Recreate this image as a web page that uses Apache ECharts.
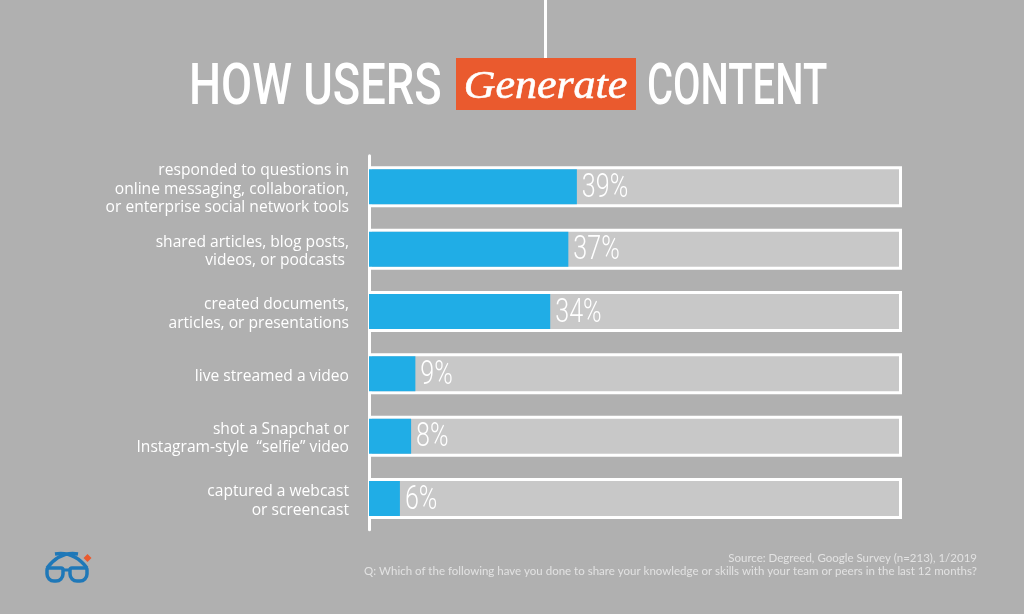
<!DOCTYPE html>
<html>
<head>
<meta charset="utf-8">
<title>How Users Generate Content</title>
<script src="https://cdn.jsdelivr.net/npm/echarts@6/dist/echarts.min.js"></script>
<style>
  html, body { margin: 0; padding: 0; background: #b0b0b0; }
  #main { width: 1024px; height: 614px; }
</style>
</head>
<body>
<div id="main"></div>
<script>
var categories = [
  'responded to questions in\nonline messaging, collaboration,\nor enterprise social network tools',
  'shared articles, blog posts,\nvideos, or podcasts ',
  'created documents,\narticles, or presentations',
  'live streamed a video',
  'shot a Snapchat or\nInstagram-style  “selfie” video',
  'captured a webcast\nor screencast'
];
// percent of respondents (labels show them rounded)
var shares = [39, 37.4, 34, 8.7, 7.9, 5.8];
var fullScale = [100, 100, 100, 100, 100, 100];
var sourceNote = 'Source: Degreed, Google Survey (n=213), 1/2019';
var questionNote = 'Q: Which of the following have you done to share your knowledge or skills with your team or peers in the last 12 months?';

var myChart = echarts.init(document.getElementById('main'));

// condensed look: no narrow font here, so squeeze the text horizontally
function renderPercent(params, api) {
  var pos = api.coord([api.value(0), api.value(1)]);
  return {
    type: 'text',
    x: pos[0] + 5,
    y: pos[1] + 2,
    scaleX: 0.76,
    style: {
      text: Math.round(api.value(0)) + '%',
      fill: '#ffffff',
      font: '300 33px Roboto',
      textAlign: 'left',
      textVerticalAlign: 'middle'
    }
  };
}

var option = {
  backgroundColor: '#b0b0b0',
  animation: false,
  grid: [
    { left: 369, top: 155.7, width: 533, height: 374 },
    // same band layout a little lower, only carries the category labels
    { left: 369, top: 158, width: 533, height: 374 }
  ],
  xAxis: [
    { type: 'value', min: 0, max: 100, show: false },
    { type: 'value', min: 0, max: 100, show: false, gridIndex: 1 }
  ],
  yAxis: [
    {
      type: 'category',
      inverse: true,
      data: categories,
      offset: 1,
      axisTick: { show: false },
      axisLabel: { show: false },
      axisLine: { show: true, lineStyle: { color: '#ffffff', width: 3 } }
    },
    // second hidden axis so track and blue bar stay centred with different widths
    { type: 'category', inverse: true, data: categories, show: false },
    {
      type: 'category',
      gridIndex: 1,
      inverse: true,
      data: categories,
      axisTick: { show: false },
      axisLine: { show: false },
      axisLabel: {
        color: '#ffffff',
        fontFamily: 'Open Sans',
        fontSize: 15.6,
        lineHeight: 18.5,
        align: 'right',
        margin: 20
      }
    }
  ],
  series: [
    {
      // grey track with white frame (border is drawn inside the bar)
      type: 'bar',
      data: fullScale,
      barWidth: 41,
      silent: true,
      itemStyle: { color: '#c8c8c8', borderColor: '#ffffff', borderWidth: 3 }
    },
    {
      type: 'bar',
      yAxisIndex: 1,
      data: shares,
      barWidth: 35,
      z: 3,
      itemStyle: { color: '#20ade6' }
    },
    {
      type: 'custom',
      yAxisIndex: 1,
      z: 4,
      silent: true,
      data: shares.map(function (v, i) { return [v, i]; }),
      encode: { x: 0, y: 1 },
      renderItem: renderPercent
    }
  ],
  graphic: [
    { type: 'rect', shape: { x: 544, y: 0, width: 3, height: 58 }, style: { fill: '#ffffff' } },
    { type: 'rect', shape: { x: 456, y: 58, width: 180, height: 52 }, style: { fill: '#ea5a2e' } },
    {
      type: 'text', x: 189, y: 90, scaleX: 0.793,
      style: { text: 'HOW USERS', fill: '#ffffff', font: '500 57px Roboto', textAlign: 'left', textVerticalAlign: 'middle' }
    },
    {
      type: 'text', x: 545.5, y: 87, scaleX: 1.1,
      style: { text: 'Generate', fill: '#ffffff', stroke: '#ffffff', lineWidth: 0.6, font: 'italic 40px "Liberation Serif"', textAlign: 'center', textVerticalAlign: 'middle' }
    },
    {
      type: 'text', x: 647, y: 90, scaleX: 0.7,
      style: { text: 'CONTENT', fill: '#ffffff', font: '500 57px Roboto', textAlign: 'left', textVerticalAlign: 'middle' }
    },
    {
      type: 'text', x: 977, y: 558,
      style: { text: sourceNote, fill: '#e2e2e2', font: '11.5px Lato', textAlign: 'right', textVerticalAlign: 'middle' }
    },
    {
      type: 'text', x: 977, y: 571,
      style: { text: questionNote, fill: '#e2e2e2', font: '11.5px Lato', textAlign: 'right', textVerticalAlign: 'middle' }
    },
    // logo: glasses
    { type: 'rect', shape: { x: 47, y: 568, width: 16, height: 13, r: [2, 2, 7, 7] }, style: { fill: 'none', stroke: '#1f78b8', lineWidth: 3.5 } },
    { type: 'rect', shape: { x: 70, y: 568, width: 17, height: 13, r: [2, 2, 7, 7] }, style: { fill: 'none', stroke: '#1f78b8', lineWidth: 3.5 } },
    { type: 'polyline', shape: { points: [[63, 570], [70, 570]] }, style: { stroke: '#1f78b8', lineWidth: 3, fill: 'none' } },
    { type: 'bezierCurve', shape: { x1: 47, y1: 568, cpx1: 60, cpy1: 551, x2: 78, y2: 554 }, style: { stroke: '#1f78b8', lineWidth: 3.5, fill: 'none' } },
    { type: 'bezierCurve', shape: { x1: 87, y1: 568, cpx1: 74, cpy1: 551, x2: 55, y2: 554 }, style: { stroke: '#1f78b8', lineWidth: 3.5, fill: 'none' } },
    { type: 'polygon', shape: { points: [[87.5, 554], [91.5, 558], [87.5, 562], [83.5, 558]] }, style: { fill: '#ea5a2e' } }
  ]
};

myChart.setOption(option);
</script>
</body>
</html>
